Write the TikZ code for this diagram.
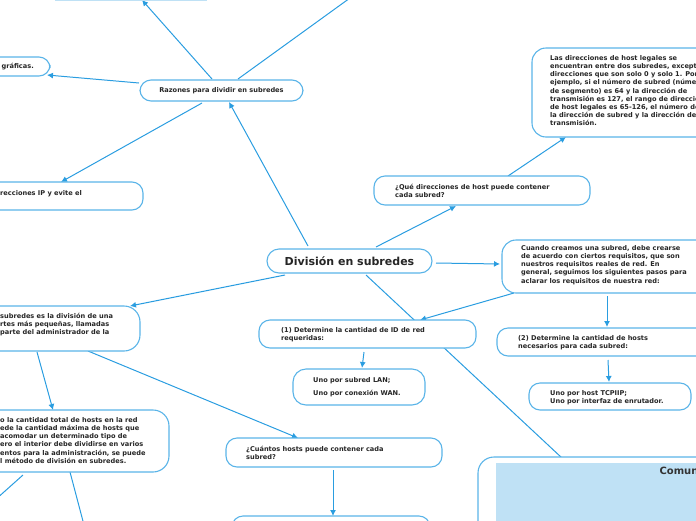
\documentclass[tikz,border=0pt]{standalone}
\usepackage{fontspec}
\setmainfont{DejaVu Sans}
\usetikzlibrary{arrows.meta}
\definecolor{mapline}{HTML}{2A9DE0}
\definecolor{mapedge}{HTML}{5AB4E8}
\definecolor{mapfill}{HTML}{BFE1F5}
\tikzset{topic/.style={draw=mapedge,line width=1.1pt,rounded corners=11pt,fill=white},
  txt/.style={font=\fontsize{6.6}{8.2}\selectfont\bfseries,text=black!85,align=left,anchor=north west,inner sep=0pt},
  link/.style={draw=mapline,line width=1pt,-{Latex[length=6pt,width=6pt]}},
  plain link/.style={draw=mapline,line width=1pt},
}
\begin{document}
\begin{tikzpicture}[x=1pt,y=-1pt]
\useasboundingbox (0,0) rectangle (696,520);
\clip (0,0) rectangle (696,520);
% connectors
\coordinate (r1) at (212,79); \coordinate (top) at (142,0);
\coordinate (r2) at (238,79); \coordinate (topr) at (350,-2);
\path[link] (r1) -- (top);
\path[plain link] (r2) -- (topr);
\coordinate (r3) at (139,83); \coordinate (gr) at (47,75);
\path[link] (r3) -- (gr);
\coordinate (r4) at (202,103); \coordinate (ip) at (61,182);
\path[link] (r4) -- (ip);
\coordinate (d1) at (308,246); \coordinate (rz) at (229,102);
\path[link] (d1) -- (rz);
\coordinate (d2) at (376,247); \coordinate (qd) at (456,206);
\path[link] (d2) -- (qd);
\coordinate (d3) at (436,263); \coordinate (cu) at (500,264);
\path[link] (d3) -- (cu);
\coordinate (c1) at (514,293); \coordinate (det1) at (420,320);
\path[link] (c1) -- (det1);
\coordinate (d4) at (366,275); \coordinate (co) at (562,458);
\path[plain link] (d4) -- (co);
\coordinate (q1) at (508,176); \coordinate (ld) at (566,137);
\path[link] (q1) -- (ld);
\coordinate (c2) at (607,296); \coordinate (det2) at (607,327);
\path[link] (c2) -- (det2);
\coordinate (e1) at (364,352); \coordinate (un1) at (362,368);
\path[link] (e1) -- (un1);
\coordinate (e2) at (608,360); \coordinate (un2) at (609,382);
\path[link] (e2) -- (un2);
\coordinate (d5) at (285,275); \coordinate (sb) at (130,306);
\path[link] (d5) -- (sb);
\coordinate (s1) at (37,352); \coordinate (ct) at (53,410);
\path[link] (s1) -- (ct);
\coordinate (s2) at (88,351); \coordinate (cq) at (298,438);
\path[link] (s2) -- (cq);
\coordinate (k1) at (333,470); \coordinate (kb) at (333,516);
\path[link] (k1) -- (kb);
\coordinate (t1) at (23,475); \coordinate (t2) at (-5,500);
\coordinate (t3) at (70,472); \coordinate (t4) at (84,525);
\path[plain link] (t1) -- (t2);
\path[plain link] (t3) -- (t4);
% boxes
\fill[mapfill] (55,-20) rectangle (207,1);
\draw[topic] (140,80) rectangle (303,101);
\node[txt,anchor=center] (razones) at (221.5,91) {Razones para dividir en subredes};
\draw[topic] (-100,57) rectangle (50,76);
\node[txt,anchor=east] (graficas) at (34,67) {gráficas.};
\draw[topic] (-150,182) rectangle (143,210);
\node[txt] (evite) at (0,190) {recciones IP y evite el};
\draw[topic,rounded corners=12pt] (267,249) rectangle (432,273);
\node[font=\fontsize{11}{13}\selectfont\bfseries,text=black!85] (division) at (349.5,261) {División en subredes};
\draw[topic] (374,176) rectangle (590,205);
\node[txt] (quedir) at (395,184) {¿Qué direcciones de host puede contener\\cada subred?};
\draw[topic,rounded corners=14pt] (532,48) rectangle (712,137);
\node[txt] (legales) at (550,55) {Las direcciones de host legales se\\encuentran entre dos subredes, excepto\\direcciones que son solo 0 y solo 1. Por\\ejemplo, si el número de subred (número\\de segmento) es 64 y la dirección de\\transmisión es 127, el rango de direcciones\\de host legales es 65-126, el número de\\la dirección de subred y la dirección de\\transmisión.};
\draw[topic,rounded corners=14pt] (502,240) rectangle (712,293);
\node[txt] (cuando) at (521,245) {Cuando creamos una subred, debe crearse\\de acuerdo con ciertos requisitos, que son\\nuestros requisitos reales de red. En\\general, seguimos los siguientes pasos para\\aclarar los requisitos de nuestra red:};
\draw[topic] (259,320) rectangle (476,348);
\node[txt] (paso1) at (281,327) {(1) Determine la cantidad de ID de red\\requeridas:};
\draw[topic,rounded corners=13pt] (293,369) rectangle (425,405);
\node[txt] (lanwan) at (313,377) {Uno por subred LAN;\\[5pt]Uno por conexión WAN.};
\draw[topic] (497,328) rectangle (712,356);
\node[txt] (paso2) at (518,335) {(2) Determine la cantidad de hosts\\necesarios para cada subred:};
\draw[topic] (529,383) rectangle (691,410);
\node[txt] (tcpip) at (550,390) {Uno por host TCPIIP;\\Uno por interfaz de enrutador.};
\draw[topic,rounded corners=16pt] (-150,306) rectangle (140,351);
\node[txt] (subredes) at (0,313) {subredes es la división de una\\rtes más pequeñas, llamadas\\parte del administrador de la};
\draw[topic,rounded corners=16pt] (-150,410) rectangle (169,472);
\node[txt] (cantidad) at (0,417) {o la cantidad total de hosts en la red\\ede la cantidad máxima de hosts que\\ acomodar un determinado tipo de\\ero el interior debe dividirse en varios\\entos para la administración, se puede\\l método de división en subredes.};
\draw[topic] (226,438) rectangle (442,467);
\node[txt] (cuantos) at (246,446) {¿Cuántos hosts puede contener cada\\subred?};
\draw[topic] (232,516) rectangle (430,540);
\draw[topic,rounded corners=16pt] (478,457) rectangle (720,540);
\fill[mapfill] (496,463) rectangle (700,530);
\node[font=\fontsize{10}{12}\selectfont\bfseries,text=black!80,anchor=west] (comun) at (656,471) {Comunicación};
\end{tikzpicture}
\end{document}
